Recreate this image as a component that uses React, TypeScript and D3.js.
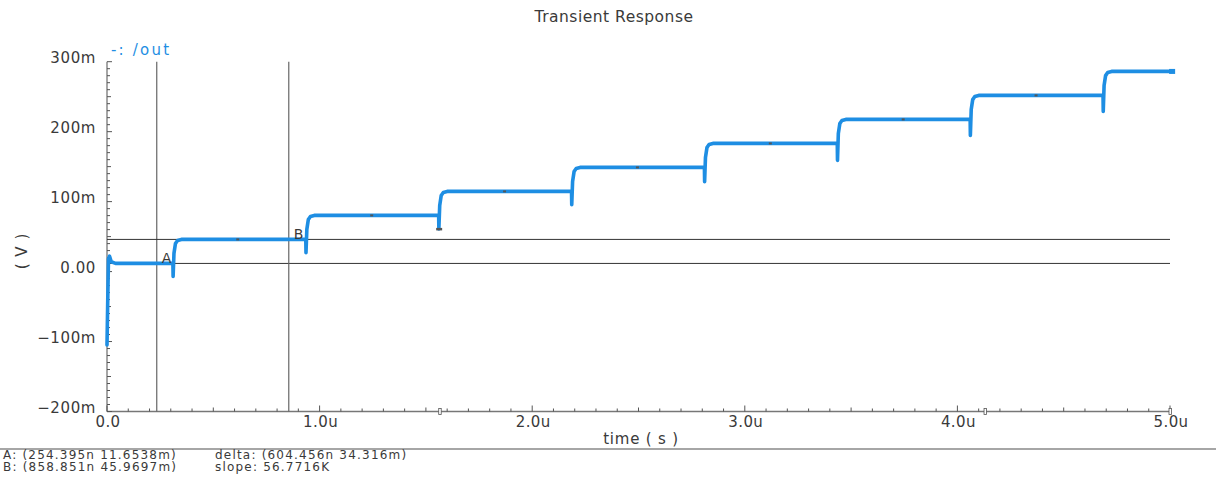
import * as d3 from "d3";

// waveform of /out, times in us, values in mV
const startTimes = [0, 0.003, 0.007, 0.012, 0.02, 0.04];
const startValues = [-105, -50, 18, 22, 14, 11.7];
const stepTimes = [0.31, 0.935, 1.56, 2.185, 2.81, 3.435, 4.06, 4.685];
const levels = [11.7, 46.0, 80.3, 114.6, 148.9, 183.2, 217.5, 251.8, 286.1];
const dips = [-7, 27, 61, 95.5, 128.5, 159, 194.5, 229];
const endTime = 5.01;

const markTimes = [0.615, 1.245, 1.87, 2.495, 3.12, 3.745, 4.37];
const axisMarkTimes = [1.565, 4.13, 5.0];

const cursorTimes = [0.234, 0.855];
const cursorValues = [11.6538, 45.9697];
const cursorNames = ["A", "B"];

const xTickLabels = ["0.0", "1.0u", "2.0u", "3.0u", "4.0u", "5.0u"];
const yTickLabels = ["\u2212200m", "\u2212100m", "0.00", "100m", "200m", "300m"];
const readout = [
  ["A: (254.395n 11.6538m)", "delta: (604.456n 34.316m)"],
  ["B: (858.851n 45.9697m)", "slope: 56.7716K"],
];

const W = 1216, H = 479;
const BLUE = "#1e8ee3";
const TXT = "#3a3a3a";
const font = "'DejaVu Sans', sans-serif";

const levelAt = (t: number) => levels[stepTimes.filter((s) => s < t).length];

export default function App() {
  const x = d3.scaleLinear().domain([0, 5]).range([107, 1170]);
  const y = d3.scaleLinear().domain([-200, 300]).range([411.5, 61.7]);

  // build the trace from the arrays above
  const pts: [number, number][] = startTimes.map((t, i) => [t, startValues[i]]);
  stepTimes.forEach((ts, i) => {
    const next = levels[i + 1];
    pts.push([ts, levels[i]]);
    pts.push([ts + 0.001, dips[i]]);
    pts.push([ts + 0.005, next - 20]);
    pts.push([ts + 0.012, next - 6]);
    pts.push([ts + 0.022, next - 1.5]);
    pts.push([ts + 0.04, next]);
  });
  pts.push([endTime, levels[levels.length - 1]]);

  const line = d3.line<[number, number]>().x((d) => x(d[0])).y((d) => y(d[1]));

  const xTicks = x.ticks(50);
  const yTicks = y.ticks(50);
  const xMajor = x.ticks(5);
  const yMajor = y.ticks(5);

  return (
    <svg width={W} height={H} style={{ position: "absolute", left: 0, top: 0, background: "#fff" }}
      fontFamily={font}>
      <text x={614} y={22} textAnchor="middle" fontSize={15.5} letterSpacing={0.5} fill={TXT}>
        Transient Response
      </text>
      <text x={111} y={55} fontSize={15} fill={BLUE} letterSpacing={2.2}>-: /out</text>

      {/* axes */}
      <line x1={x(0)} x2={x(0)} y1={y(300)} y2={y(-200)} stroke="#777" strokeWidth={1.3} />
      <line x1={x(0)} x2={x(5)} y1={y(-200)} y2={y(-200)} stroke="#777" strokeWidth={1.3} />
      {yTicks.map((v) => {
        const len = v % 100 === 0 ? 5 : v % 50 === 0 ? 4 : 3;
        return <line key={"yt" + v} x1={x(0)} x2={x(0) + len} y1={y(v)} y2={y(v)} stroke="#555" strokeWidth={1} />;
      })}
      {xTicks.map((t) => {
        const r = Math.round(t * 10);
        const len = r % 10 === 0 ? 6 : r % 5 === 0 ? 4 : 3;
        return <line key={"xt" + t} x1={x(t)} x2={x(t)} y1={y(-200)} y2={y(-200) - len} stroke="#555" strokeWidth={1} />;
      })}
      {yMajor.map((v, i) => (
        <text key={"yl" + v} x={96} y={y(v) + 1} textAnchor="end" fontSize={15} letterSpacing={0.6} fill={TXT}>
          {yTickLabels[i]}
        </text>
      ))}
      {xMajor.map((t, i) => (
        <text key={"xl" + t} x={x(t) + 1} y={427} textAnchor="middle" fontSize={15} letterSpacing={0.4} fill={TXT}>
          {xTickLabels[i]}
        </text>
      ))}
      <text x={641} y={444} textAnchor="middle" fontSize={15} letterSpacing={0.8} fill={TXT}>time ( s )</text>
      <text transform={`translate(27,251) rotate(-90)`} textAnchor="middle" fontSize={15} letterSpacing={1} fill={TXT}>
        ( V )
      </text>

      {/* cursors */}
      {cursorTimes.map((t, i) => (
        <g key={"c" + i}>
          <line x1={x(t)} x2={x(t)} y1={y(300)} y2={y(-200)} stroke="#666" strokeWidth={1.2} />
          <line x1={x(0)} x2={x(5)} y1={y(cursorValues[i])} y2={y(cursorValues[i])} stroke="#333" strokeWidth={1} />
        </g>
      ))}

      {/* trace */}
      <path d={line(pts) ?? ""} fill="none" stroke={BLUE} strokeWidth={3.6}
        strokeLinejoin="round" strokeLinecap="round" />

      {markTimes.map((t) => (
        <rect key={"m" + t} x={x(t) - 1.5} y={y(levelAt(t)) - 1} width={3} height={2} fill="#555" />
      ))}
      <rect x={x(stepTimes[2]) - 2.5} y={y(dips[2]) - 1} width={6} height={2.5} fill="#555" />
      <rect x={x(endTime) - 3} y={y(levels[8]) - 2.5} width={6} height={5} fill={BLUE} />
      {axisMarkTimes.map((t) => (
        <rect key={"am" + t} x={x(t) - 1} y={y(-200) - 3} width={2.5} height={6} fill="#fff" stroke="#555" strokeWidth={0.8} />
      ))}

      {cursorNames.map((n, i) => (
        <text key={"cn" + n} x={x(cursorTimes[i]) + 5} y={y(cursorValues[i]) - 0.5} fontSize={14} fill={TXT}>{n}</text>
      ))}

      {/* readout */}
      <line x1={0} x2={W} y1={449} y2={449} stroke="#888" strokeWidth={1.5} />
      {readout.map((row, r) => (
        <g key={"r" + r}>
          <text x={3} y={459 + r * 12} fontSize={12} letterSpacing={1.2} fill={TXT}>{row[0]}</text>
          <text x={215} y={459 + r * 12} fontSize={12} letterSpacing={1.2} fill={TXT}>{row[1]}</text>
        </g>
      ))}
    </svg>
  );
}
